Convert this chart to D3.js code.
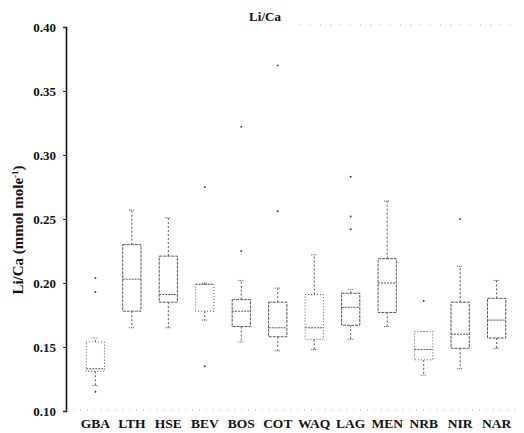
<!DOCTYPE html>
<html>
<head>
<meta charset="utf-8">
<script src="https://cdn.jsdelivr.net/npm/d3@7"></script>
<style>
  body { margin: 0; background: #fff; }
  svg text { font-family: "Liberation Serif", "DejaVu Serif", serif; font-weight: bold; fill: #111; }
</style>
</head>
<body>
<div id="chart"></div>
<script>
// sites along x
var sites = ["GBA", "LTH", "HSE", "BEV", "BOS", "COT", "WAQ", "LAG", "MEN", "NRB", "NIR", "NAR"];
// box stats (mmol/mole)
var lowWhisker = [0.120, 0.165, 0.165, 0.171, 0.154, 0.147, 0.148, 0.156, 0.166, 0.128, 0.133, 0.149];
var q1 =         [0.131, 0.178, 0.185, 0.178, 0.166, 0.158, 0.156, 0.167, 0.177, 0.140, 0.149, 0.157];
var median =     [0.133, 0.203, 0.191, 0.199, 0.178, 0.165, 0.165, 0.181, 0.200, 0.148, 0.160, 0.171];
var q3 =         [0.154, 0.230, 0.221, 0.199, 0.187, 0.185, 0.191, 0.192, 0.219, 0.162, 0.185, 0.188];
var highWhisker =[0.157, 0.257, 0.251, 0.200, 0.202, 0.196, 0.222, 0.195, 0.264, 0.162, 0.213, 0.202];
var outliers = [
  [0.193, 0.204, 0.115],
  [],
  [],
  [0.135, 0.275],
  [0.225, 0.322],
  [0.256, 0.370],
  [],
  [0.242, 0.252, 0.283],
  [],
  [0.186],
  [0.250],
  []
];
var yTicks = [0.10, 0.15, 0.20, 0.25, 0.30, 0.35, 0.40];

var W = 524, H = 433;
var axisX = 66, plotTop = 27, plotBottom = 411;

var svg = d3.select("#chart").append("svg").attr("width", W).attr("height", H);

var x = d3.scaleBand().domain(sites).range([68, 524]).padding(0.5);
var y = d3.scaleLinear().domain([0.10, 0.40]).range([plotBottom, plotTop]);

// y axis
var yAxis = svg.append("g").attr("transform", "translate(" + axisX + ",0)")
  .call(d3.axisLeft(y).tickValues(yTicks).tickFormat(d3.format(".2f")).tickSize(3).tickPadding(7));
yAxis.select(".domain").attr("stroke", "#111").attr("stroke-width", 1.6);
yAxis.selectAll(".tick line").attr("stroke", "#333");
yAxis.selectAll("text").style("font-size", "13px").attr("fill", "#222");

// faint dotted frame lines at top and bottom
svg.append("line").attr("x1", axisX).attr("x2", 515).attr("y1", plotBottom - 1).attr("y2", plotBottom - 1)
  .attr("stroke", "#999").attr("stroke-width", 0.8).attr("stroke-dasharray", "1,6");
svg.append("line").attr("x1", 300).attr("x2", 515).attr("y1", 25).attr("y2", 25)
  .attr("stroke", "#999").attr("stroke-width", 0.8).attr("stroke-dasharray", "1,9");

// x labels
svg.append("g").selectAll("text").data(sites).join("text")
  .attr("x", function(d) { return x(d) + x.bandwidth() / 2; })
  .attr("y", 428)
  .attr("text-anchor", "middle")
  .style("font-size", "13.5px")
  .text(function(d) { return d; });

// title and y label
svg.append("text").attr("x", 265).attr("y", 21).attr("text-anchor", "middle")
  .style("font-size", "13px").text("Li/Ca");
svg.append("text").attr("transform", "translate(23,230)rotate(-90)").attr("text-anchor", "middle")
  .style("font-size", "15px")
  .html("Li/Ca (mmol mole<tspan dy='-5' style='font-size:9px'>-1</tspan><tspan dy='5'>)</tspan>");

var boxes = svg.append("g");
sites.forEach(function(s, i) {
  var x0 = x(s), w = x.bandwidth(), cx = x0 + w / 2;
  var g = boxes.append("g").attr("stroke", "#555").attr("fill", "none").attr("stroke-width", 1);
  // whiskers
  g.append("line").attr("x1", cx).attr("x2", cx).attr("y1", y(q3[i])).attr("y2", y(highWhisker[i]))
    .attr("stroke-dasharray", "2,2");
  g.append("line").attr("x1", cx).attr("x2", cx).attr("y1", y(q1[i])).attr("y2", y(lowWhisker[i]))
    .attr("stroke-dasharray", "2,2");
  g.append("line").attr("x1", cx - 3).attr("x2", cx + 3).attr("y1", y(highWhisker[i])).attr("y2", y(highWhisker[i]))
    .attr("stroke-dasharray", "1,1");
  g.append("line").attr("x1", cx - 3).attr("x2", cx + 3).attr("y1", y(lowWhisker[i])).attr("y2", y(lowWhisker[i]))
    .attr("stroke-dasharray", "1,1");
  // box
  g.append("rect").attr("x", x0).attr("width", w)
    .attr("y", y(q3[i])).attr("height", y(q1[i]) - y(q3[i]))
    .attr("fill", "#fff").attr("stroke-dasharray", i % 3 === 0 ? "1,2" : "3,1");
  // median
  g.append("line").attr("x1", x0).attr("x2", x0 + w).attr("y1", y(median[i])).attr("y2", y(median[i]))
    .attr("stroke-dasharray", "2,1");
  // outliers
  g.selectAll("circle").data(outliers[i]).join("circle")
    .attr("cx", cx).attr("cy", function(d) { return y(d); }).attr("r", 1)
    .attr("fill", "#444").attr("stroke", "none");
});
</script>
</body>
</html>
